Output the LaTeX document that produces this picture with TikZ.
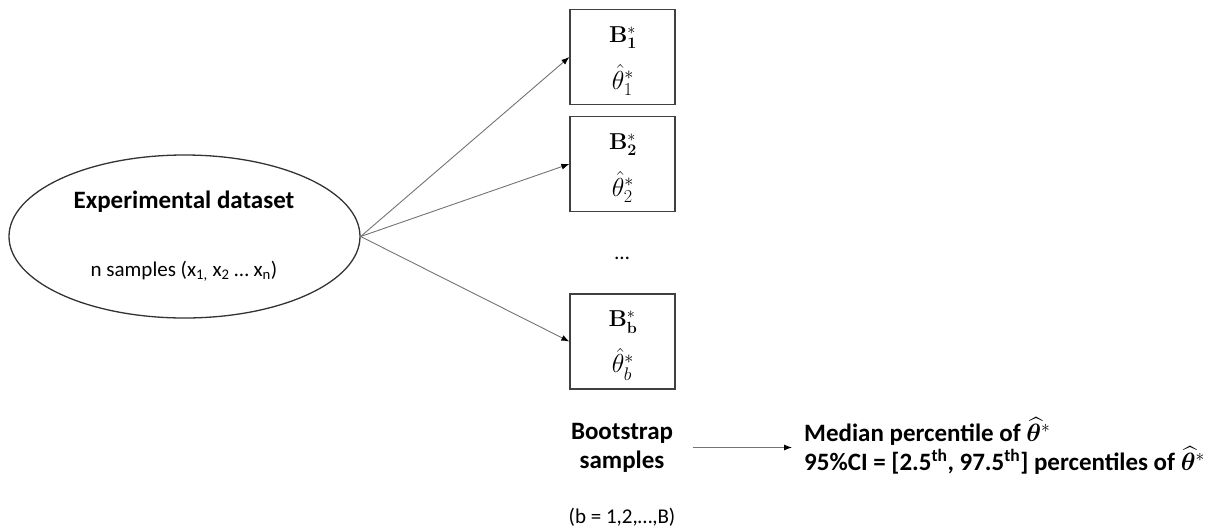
\documentclass[tikz,border=0pt]{standalone}
\usepackage{fix-cm}
\usepackage{amsmath,bm}
\usepackage[no-math]{fontspec}
\setmainfont{Carlito}
\usetikzlibrary{arrows.meta,shapes.geometric}
\begin{document}
\begin{tikzpicture}[x=1pt,y=-1pt,
  conn/.style={draw=black!55, line width=0.9pt, -{Latex[length=8pt,width=6pt,black]}},
  sbox/.style={draw=black!75, line width=1.3pt, minimum width=105pt, minimum height=95pt, inner sep=0pt},
  big/.style={font=\fontsize{25}{29}\selectfont\bfseries},
  small/.style={font=\fontsize{21}{25}\selectfont},
  mthb/.style={font=\fontsize{23}{27}\selectfont, inner sep=1pt},
  mtht/.style={font=\fontsize{26}{30}\selectfont, inner sep=1pt}]
\useasboundingbox (0,0) rectangle (1212,528);
% dataset ellipse
\node[draw=black!80, line width=1.3pt, ellipse, minimum width=351pt, minimum height=163pt, inner sep=0pt] (ds) at (184.5,236.5) {};
\node[big] (dstitle) at (184,202) {Experimental dataset};
\node[small] (dssub) at (184,271) {n samples (x\textsubscript{1,} x\textsubscript{2} … x\textsubscript{n})};
% bootstrap boxes
\node[sbox] (b1) at (622.5,57) {};
\node[sbox] (b2) at (622.5,164) {};
\node[sbox] (bb) at (622.5,341.5) {};
\node[mthb] (b1t) at (623,38) {$\mathbf{B}^{*}_{\mathbf{1}}$};
\node[mtht] (b1h) at (623,80) {$\hat{\theta}^{*}_{1}$};
\node[mthb] (b2t) at (623,145) {$\mathbf{B}^{*}_{\mathbf{2}}$};
\node[mtht] (b2h) at (623,187) {$\hat{\theta}^{*}_{2}$};
\node[mthb] (bbt) at (623,322) {$\mathbf{B}^{*}_{\mathbf{b}}$};
\node[mtht] (bbh) at (623,364) {$\hat{\theta}^{*}_{b}$};
\node[small] (dots) at (622,258) {…};
% connectors
\draw[conn] (ds.east) -- (b1.west);
\draw[conn] (ds.east) -- (b2.west);
\draw[conn] (ds.east) -- (bb.west);
% bottom
\node[big, align=center] (bs) at (622,447.5) {Bootstrap\\samples};
\node[small] (brange) at (622,517) {(b = 1,2,…,B)};
\node[big, align=left, anchor=west, inner sep=0pt] (res) at (804,446)
  {Median percentile of $\widehat{\bm{\theta}}^{*}$\\
   95\%CI = [2.5\textsuperscript{th}, 97.5\textsuperscript{th}] percentiles of $\widehat{\bm{\theta}}^{*}$};
\draw[conn] ([xshift=16pt]bs.east) -- ([xshift=-12pt]bs.east -| res.west);
\end{tikzpicture}
\end{document}
